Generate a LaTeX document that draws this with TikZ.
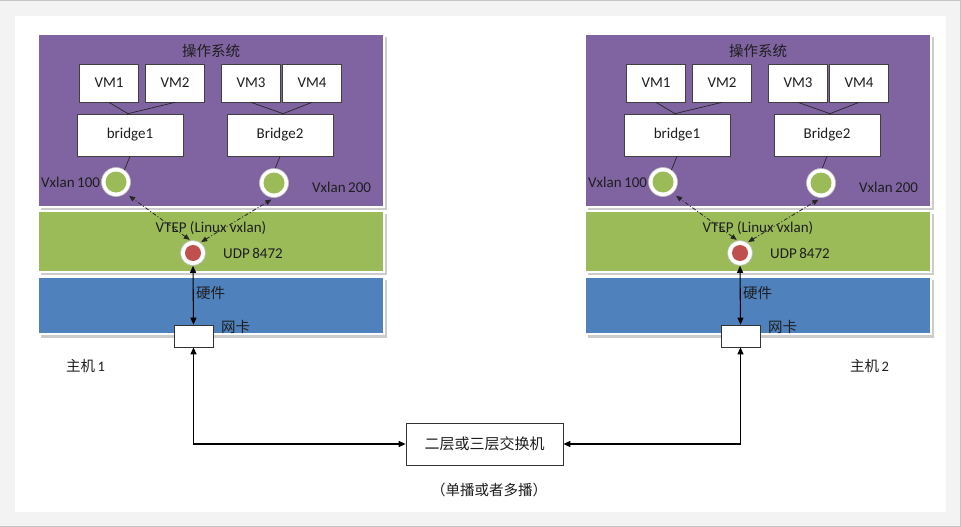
\documentclass[tikz,border=0pt]{standalone}
\usepackage{fontspec}
\setmainfont{Carlito}
\newfontfamily\cjk{Noto Sans CJK SC}
\usetikzlibrary{arrows.meta}

\definecolor{ospurple}{HTML}{8064A2}
\definecolor{vtepgreen}{HTML}{9BBB59}
\definecolor{hwblue}{HTML}{4F81BD}
\definecolor{ledred}{HTML}{C0504D}
\definecolor{pagegray}{HTML}{F3F3F3}
\definecolor{edgegray}{HTML}{C4C4C4}
\definecolor{inkgray}{HTML}{1E1E1E}

\tikzset{
  layer/.style={fill=#1, draw=white, line width=1.4pt},
  layershadow/.style={fill=black!20},
  txt/.style={inner sep=0pt, text=inkgray, font=\fontsize{15pt}{18pt}\selectfont},
  cjktxt/.style={inner sep=0pt, text=inkgray, font=\fontsize{14.5pt}{18pt}\selectfont\cjk},
  vmbox/.style={draw=black!75, fill=white, line width=0.7pt, minimum width=59pt,
    minimum height=38pt, inner sep=0pt, text=inkgray, font=\fontsize{15pt}{18pt}\selectfont},
  brbox/.style={vmbox, minimum width=106pt, minimum height=42pt},
  ring/.style={circle, fill=white, draw=black!25, line width=0.6pt, minimum size=29pt, inner sep=0pt},
  port/.style={circle, fill=vtepgreen, minimum size=21pt, inner sep=0pt},
  redring/.style={circle, fill=white, draw=black!25, line width=0.6pt, minimum size=25pt, inner sep=0pt},
  redport/.style={circle, fill=ledred, minimum size=16pt, inner sep=0pt},
  nicbox/.style={draw=black!80, fill=white, line width=0.7pt, minimum width=39pt,
    minimum height=22pt, inner sep=0pt},
  swbox/.style={draw=black!80, fill=white, line width=0.7pt, minimum width=157pt,
    minimum height=42pt, inner sep=0pt, text=inkgray, font=\fontsize{15pt}{18pt}\selectfont\cjk},
  wire/.style={draw=black!85, line width=0.7pt},
  tunnel/.style={draw=black!85, line width=0.8pt, dash pattern=on 4pt off 2pt on 1pt off 2pt,
    {Triangle[length=6pt,width=5pt]}-{Triangle[length=6pt,width=5pt]}},
  uplink/.style={draw=black, line width=1.1pt,
    {Triangle[length=7pt,width=6pt]}-{Triangle[length=7pt,width=6pt]}},
}

% One host: OS layer with VMs and bridges, VTEP layer, hardware layer with NIC
\newcommand\hostpanel[2]{%
  \begin{scope}[xshift=#1pt]
    \fill[layershadow] (41,37) rectangle (387,210);
    \fill[layershadow] (41,214) rectangle (387,275);
    \fill[layershadow] (41,280) rectangle (387,338);
    \path[layer=ospurple] (38,34) rectangle (384,207);
    \path[layer=vtepgreen] (38,211) rectangle (384,272);
    \path[layer=hwblue] (38,277) rectangle (384,334);

    \node[cjktxt] (#2os) at (211,51) {操作系统};
    \node[vmbox] (#2vm1) at (109,83) {VM1};
    \node[vmbox] (#2vm2) at (175,83) {VM2};
    \node[vmbox] (#2vm3) at (251,83) {VM3};
    \node[vmbox] (#2vm4) at (312,83) {VM4};
    \node[brbox] (#2br1) at (130,135) {bridge1};
    \node[brbox] (#2br2) at (280,135) {Bridge2};

    \node[ring] (#2c1) at (116,182) {};
    \node[port] at (#2c1) {};
    \node[ring] (#2c2) at (274,183) {};
    \node[port] at (#2c2) {};
    \node[txt, anchor=west] (#2vx1) at (41,182) {Vxlan\,100};
    \node[txt, anchor=west] (#2vx2) at (312,187) {Vxlan\,200};

    \node[redring] (#2udp) at (193,253) {};
    \node[redport] at (#2udp) {};
    \node[txt] (#2vtep) at (211,228) {VTEP (Linux vxlan)};
    \node[txt, anchor=west] (#2port) at (223,253) {UDP\,8472};

    \node[nicbox] (#2nic) at (193.5,336) {};
    \node[cjktxt, anchor=west] (#2hw) at (196,293) {硬件};
    \node[cjktxt, anchor=west] (#2nl) at (221,327) {网卡};

    \draw[wire] (#2vm1.south) -- ([xshift=-2pt]#2br1.north);
    \draw[wire] (#2vm2.south) -- ([xshift=-2pt]#2br1.north);
    \draw[wire] (#2vm3.south) -- ([xshift=3pt]#2br2.north);
    \draw[wire] (#2vm4.south) -- ([xshift=3pt]#2br2.north);
    \draw[wire] (#2br1.south) -- (#2c1.55);
    \draw[wire] (#2br2.south) -- (#2c2.85);

    \draw[tunnel, shorten <=1pt] (#2udp.101) -- ([shift={(3pt,-3pt)}]#2c1.-47);
    \draw[tunnel, shorten <=1pt] (#2udp.55) -- ([yshift=-2pt]#2c2.-100);
    \draw[uplink] (#2udp.south) -- (#2nic.north);
  \end{scope}}

\begin{document}
\begin{tikzpicture}[x=1pt, y=-1pt]
  \useasboundingbox (0,0) rectangle (961,527);
  % page frame
  \fill[pagegray] (0,0) rectangle (961,527);
  \fill[white] (15,16) rectangle (946,512);
  \draw[edgegray, line width=1.2pt] (0,0.6) -- (960.4,0.6) -- (960.4,526.4) -- (0,526.4);

  \hostpanel{0}{a}
  \hostpanel{547}{b}

  \node[cjktxt, anchor=west] (hostA) at (66,366) {主机\,\fontspec{Carlito}1};
  \node[cjktxt, anchor=west] (hostB) at (850,366) {主机\,\fontspec{Carlito}2};

  \node[swbox] (sw) at (484.5,444) {二层或三层交换机};
  \node[cjktxt] (cast) at (489,490) {（单播或者多播）};

  \draw[uplink] (anic.south) |- (sw.west);
  \draw[uplink] (bnic.south) |- (sw.east);
\end{tikzpicture}
\end{document}
